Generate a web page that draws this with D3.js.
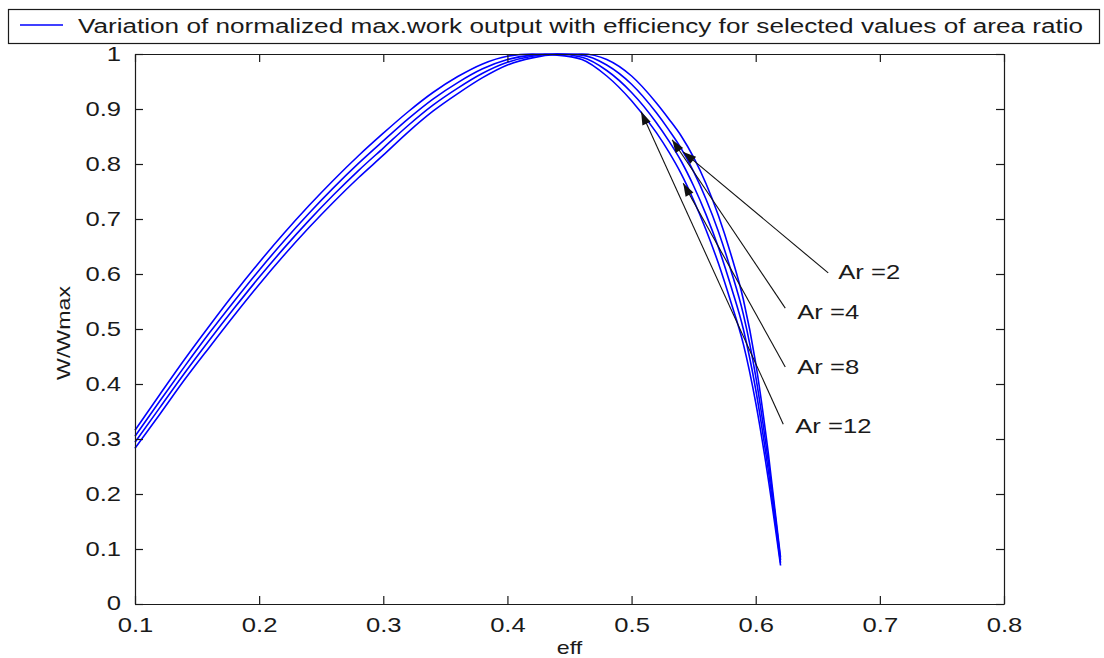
<!DOCTYPE html>
<html>
<head>
<meta charset="utf-8">
<script src="https://cdn.jsdelivr.net/npm/d3@7"></script>
<style>
  html, body { margin: 0; padding: 0; background: #fff; }
  text { font-family: "Liberation Sans", Arial, sans-serif; fill: #1a1a1a; }
</style>
</head>
<body>
<svg id="chart" width="1104" height="658"></svg>
<script>
// ---- data ----
const eff = [0.10,0.12,0.14,0.16,0.18,0.20,0.22,0.24,0.26,0.28,0.30,0.32,0.34,0.36,0.38,0.40,0.42,0.44,0.46,0.48,0.50,0.52,0.53,0.54,0.55,0.56,0.57,0.58,0.59,0.60,0.61,0.62];
const curveA = [0.316,0.381,0.445,0.506,0.565,0.621,0.674,0.724,0.771,0.815,0.856,0.895,0.930,0.959,0.982,0.996,1.000,0.998,0.990,0.960,0.915,0.857,0.822,0.782,0.734,0.680,0.619,0.549,0.473,0.366,0.229,0.070];
const curveB = [0.305,0.369,0.432,0.493,0.551,0.607,0.660,0.710,0.757,0.801,0.842,0.882,0.918,0.948,0.973,0.990,0.998,1.000,0.994,0.970,0.930,0.875,0.842,0.805,0.760,0.708,0.648,0.578,0.500,0.390,0.245,0.075];
const curveC = [0.294,0.357,0.420,0.480,0.538,0.594,0.647,0.697,0.744,0.788,0.829,0.870,0.907,0.938,0.965,0.985,0.996,1.000,0.998,0.980,0.945,0.893,0.862,0.828,0.786,0.736,0.677,0.607,0.527,0.414,0.261,0.080];
const curveD = [0.283,0.345,0.408,0.467,0.525,0.581,0.634,0.684,0.731,0.775,0.816,0.858,0.896,0.928,0.957,0.980,0.993,0.999,1.000,0.990,0.960,0.911,0.882,0.851,0.812,0.764,0.706,0.636,0.554,0.438,0.277,0.085];
const seriesList = [curveA, curveB, curveC, curveD];

const xTicks = [0.1,0.2,0.3,0.4,0.5,0.6,0.7,0.8];
const yTicks = [0,0.1,0.2,0.3,0.4,0.5,0.6,0.7,0.8,0.9,1];
const xTickLabels = ["0.1","0.2","0.3","0.4","0.5","0.6","0.7","0.8"];
const yTickLabels = ["0","0.1","0.2","0.3","0.4","0.5","0.6","0.7","0.8","0.9","1"];

const legendText = "Variation of normalized max.work output with efficiency for selected values of area ratio";
const xLabel = "eff";
const yLabel = "W/Wmax";

const arrowLabels = ["Ar =2","Ar =4","Ar =8","Ar =12"];
const arrowTipX  = [0.5416,0.5327,0.5416,0.5077];
const arrowTipY  = [0.822,0.844,0.765,0.895];
const arrowTailX = [0.6584,0.6238,0.6238,0.6222];
const arrowTailY = [0.602,0.538,0.431,0.327];
const labelX     = [0.6665,0.6334,0.6334,0.6318];
const labelY     = [0.591,0.518,0.418,0.311];

// ---- layout ----
const svg = d3.select("#chart");
const mLeft = 135, mRight = 1004, mTop = 54, mBottom = 604;
const x = d3.scaleLinear().domain([0.1, 0.8]).range([mLeft, mRight]);
const y = d3.scaleLinear().domain([0, 1]).range([mBottom, mTop]);
const STRETCH = 1.22;
const stretch = sel => sel.each(function() {
  const w = this.getComputedTextLength();
  this.setAttribute("textLength", (w * STRETCH).toFixed(1));
  this.setAttribute("lengthAdjust", "spacingAndGlyphs");
});

svg.append("rect").attr("width", 1104).attr("height", 658).attr("fill", "#fff");

// curves
const line = d3.line().curve(d3.curveMonotoneX).x((d, i) => x(eff[i])).y(d => y(d));
svg.append("g").selectAll("path").data(seriesList).join("path")
  .attr("d", d => line(d))
  .attr("fill", "none").attr("stroke", "#0000ff").attr("stroke-width", 1.6)
  .attr("stroke-linejoin", "round");

// axes (MATLAB-style box with inward ticks)
const fs = 21;
const axB = d3.axisBottom(x).tickValues(xTicks).tickSizeInner(-8).tickSizeOuter(0)
  .tickPadding(13).tickFormat((d, i) => xTickLabels[i]);
const axT = d3.axisTop(x).tickValues(xTicks).tickSizeInner(-8).tickSizeOuter(0).tickFormat("");
const axL = d3.axisLeft(y).tickValues(yTicks).tickSizeInner(-8).tickSizeOuter(0)
  .tickPadding(14).tickFormat((d, i) => yTickLabels[i]);
const axR = d3.axisRight(y).tickValues(yTicks).tickSizeInner(-8).tickSizeOuter(0).tickFormat("");

function styleAxis(g) {
  g.select(".domain").attr("stroke", "#1a1a1a").attr("stroke-width", 1.2);
  g.selectAll(".tick line").attr("stroke", "#1a1a1a").attr("stroke-width", 1.2);
  g.selectAll(".tick text").attr("font-size", fs).attr("font-family", null).attr("fill", "#1a1a1a");
}
const gB = svg.append("g").attr("transform", `translate(0,${mBottom})`).call(axB).call(styleAxis);
svg.append("g").attr("transform", `translate(0,${mTop})`).call(axT).call(styleAxis);
const gL = svg.append("g").attr("transform", `translate(${mLeft},0)`).call(axL).call(styleAxis);
svg.append("g").attr("transform", `translate(${mRight},0)`).call(axR).call(styleAxis);
gB.selectAll(".tick text").call(stretch);
gL.selectAll(".tick text").call(stretch);
gL.selectAll(".tick text").filter((d) => d === 0).attr("dy", "0.25em");

// axis titles
svg.append("text").attr("x", x(0.45)).attr("y", 654).attr("text-anchor", "middle")
  .attr("font-size", 19).text(xLabel).call(stretch);
svg.append("text").attr("transform", `translate(70,${(mTop + mBottom) / 2 + 4}) rotate(-90)`)
  .attr("text-anchor", "middle").attr("font-size", 19).text(yLabel).call(stretch);

// annotations with arrows
const ann = svg.append("g");
arrowLabels.forEach((lab, i) => {
  const x1 = x(arrowTailX[i]), y1 = y(arrowTailY[i]);
  const x2 = x(arrowTipX[i]), y2 = y(arrowTipY[i]);
  ann.append("line").attr("x1", x1).attr("y1", y1).attr("x2", x2).attr("y2", y2)
    .attr("stroke", "#111").attr("stroke-width", 1.1);
  const ang = Math.atan2(y2 - y1, x2 - x1);
  const L = 13, W = 4.5;
  const bx = x2 - L * Math.cos(ang), by = y2 - L * Math.sin(ang);
  const px = -Math.sin(ang) * W, py = Math.cos(ang) * W;
  ann.append("polygon")
    .attr("points", `${x2},${y2} ${bx + px},${by + py} ${bx - px},${by - py}`)
    .attr("fill", "#111");
  ann.append("text").attr("x", x(labelX[i])).attr("y", y(labelY[i]))
    .attr("font-size", fs).text(lab).call(stretch);
});

// legend
const lg = svg.append("g");
lg.append("rect").attr("x", 8.5).attr("y", 9.5).attr("width", 1091).attr("height", 34)
  .attr("fill", "#fff").attr("stroke", "#1a1a1a").attr("stroke-width", 1.2);
lg.append("line").attr("x1", 20).attr("x2", 63).attr("y1", 25).attr("y2", 25)
  .attr("stroke", "#0000ff").attr("stroke-width", 1.3);
lg.append("text").attr("x", 78).attr("y", 33).attr("font-size", 20)
  .attr("textLength", 1005).attr("lengthAdjust", "spacingAndGlyphs").text(legendText);
</script>
</body>
</html>
